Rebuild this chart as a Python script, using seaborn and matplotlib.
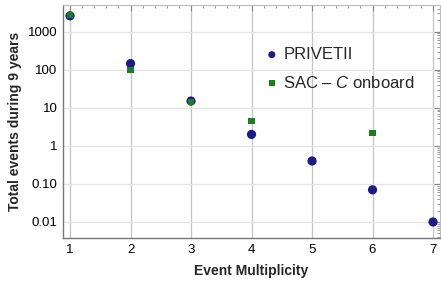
import numpy as np
import matplotlib
matplotlib.use("Agg")
import matplotlib.pyplot as plt
import seaborn as sns
from matplotlib.ticker import FixedLocator, MultipleLocator, LogLocator, NullFormatter

# values
priv_x = [1, 2, 3, 4, 5, 6, 7]
priv_y = [2600, 145, 15, 2.0, 0.4, 0.07, 0.01]
sac_x = [1, 2, 3, 4, 6]
sac_y = [2750, 100, 14, 4.4, 2.2]
labels = ["PRIVETII", "SAC – $\\mathit{C}$ onboard"]

sns.set_style("white")
plt.rcParams['font.family'] = ['Liberation Sans', 'DejaVu Sans']
plt.rcParams['mathtext.fontset'] = 'custom'
plt.rcParams['mathtext.it'] = 'Liberation Sans:italic'
plt.rcParams['mathtext.rm'] = 'Liberation Sans'

fig = plt.figure(figsize=(4.41, 2.82), dpi=100)
ax = fig.add_axes([63/441, 44/282, 377/441, 233/282])

sns.scatterplot(x=priv_x, y=priv_y, color="#1c1c84", marker="o", s=44,
                edgecolor="none", ax=ax, label=labels[0], zorder=3)
sns.scatterplot(x=sac_x, y=sac_y, color="#1e7d1e", marker="s", s=20,
                edgecolor="none", ax=ax, label=labels[1], zorder=4)

ax.set_yscale("log")
ax.set_xlim(0.884, 7.115)
ax.set_ylim(0.0038, 5000)

ax.xaxis.set_major_locator(FixedLocator([1, 2, 3, 4, 5, 6, 7]))
ax.xaxis.set_minor_locator(MultipleLocator(0.2))
ax.yaxis.set_major_locator(FixedLocator([0.01, 0.1, 1, 10, 100, 1000]))
ax.set_yticklabels(["0.01", "0.10", "1", "10", "100", "1000"])
ax.yaxis.set_minor_locator(LogLocator(base=10, subs=np.arange(2, 10)))
ax.yaxis.set_minor_formatter(NullFormatter())

ax.grid(True, axis="x", color="#c4c4c4", lw=0.9)
ax.grid(True, axis="y", color="#e4e4e4", lw=0.9)
ax.set_axisbelow(True)

ax.tick_params(which="both", direction="in", top=True, right=True,
               colors="#888888", labelcolor="black", labelsize=9.5)
ax.tick_params(which="major", length=4, width=0.8, pad=4)
ax.tick_params(which="minor", length=2, width=0.6)
for s in ["left", "bottom"]:
    ax.spines[s].set_color("#777777")
    ax.spines[s].set_linewidth(1.0)
for s in ["top", "right"]:
    ax.spines[s].set_color("#bbbbbb")
    ax.spines[s].set_linewidth(0.8)

ax.set_xlabel("Event Multiplicity", fontweight="bold", fontsize=10, labelpad=6)
ax.set_ylabel("Total events during 9 years", fontweight="bold", fontsize=10, labelpad=4)

leg = ax.legend(loc="upper left", bbox_to_anchor=(0.492, 0.884), frameon=False,
                fontsize=12, handlelength=1.0, handletextpad=0.2,
                labelspacing=0.75)
hs = leg.legend_handles
hs[0].set_sizes([26])
hs[1].set_sizes([15])

fig.savefig("out.png", dpi=100)
